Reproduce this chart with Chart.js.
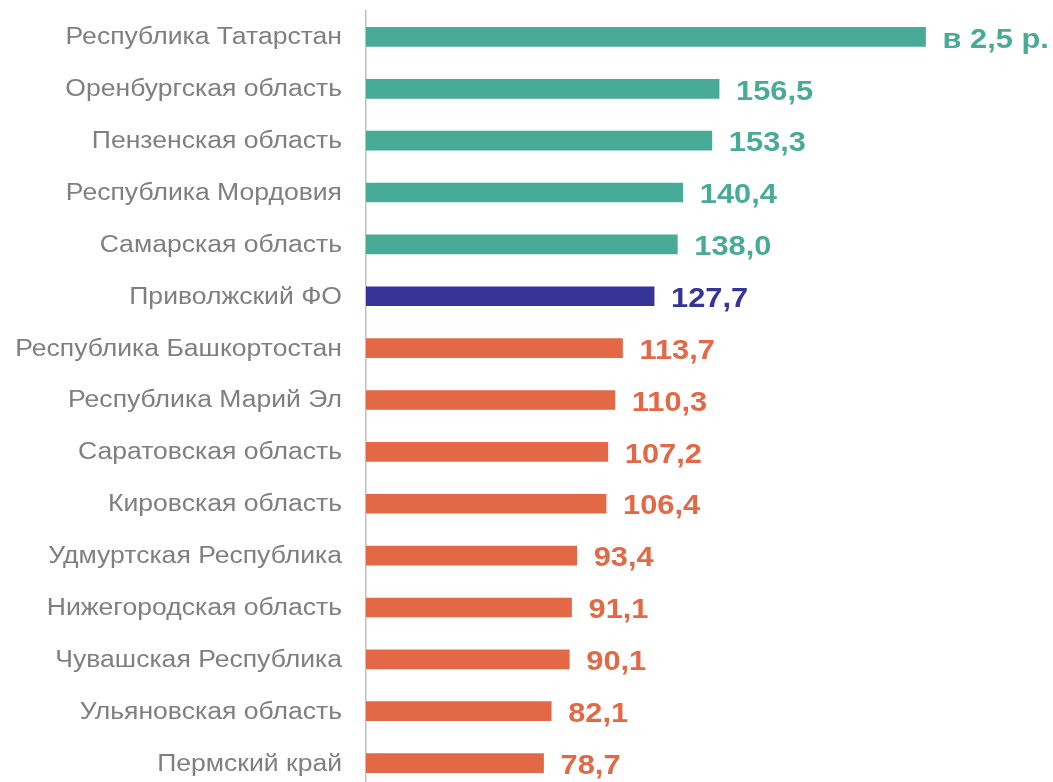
<!DOCTYPE html>
<html>
<head>
<meta charset="utf-8">
<script src="https://cdn.jsdelivr.net/npm/chart.js@4/dist/chart.umd.min.js"></script>
<style>
  html, body { margin: 0; padding: 0; background: #fff; overflow: hidden; }
  #wrap { width: 1053px; height: 790px; }
</style>
</head>
<body>
<div id="wrap"><canvas id="myChart"></canvas></div>
<script>
// regions, top to bottom
const regions = [
  "Республика Татарстан", "Оренбургская область", "Пензенская область",
  "Республика Мордовия", "Самарская область", "Приволжский ФО",
  "Республика Башкортостан", "Республика Марий Эл", "Саратовская область",
  "Кировская область", "Удмуртская Республика", "Нижегородская область",
  "Чувашская Республика", "Ульяновская область", "Пермский край"
];
// values (Tatarstan is shown as "в 2,5 р.", bar)
const values = [248, 156.5, 153.3, 140.4, 138.0, 127.7, 113.7, 110.3, 107.2, 106.4, 93.4, 91.1, 90.1, 82.1, 78.7];
const valueLabels = ["в 2,5 р.", "156,5", "153,3", "140,4", "138,0", "127,7", "113,7", "110,3", "107,2", "106,4", "93,4", "91,1", "90,1", "82,1", "78,7"];
// group: 0 = above district, 1 = district, 2 = below
const groups = [0, 0, 0, 0, 0, 1, 2, 2, 2, 2, 2, 2, 2, 2, 2];

const groupColors = ["#48ab97", "#363399", "#e36846"];
const barColors = groups.map(g => groupColors[g]);

// text is a bit wider than plain Arial in the original
function drawStretched(ctx, text, x, y, align, stretch) {
  ctx.save();
  ctx.translate(x, y);
  ctx.scale(stretch, 1);
  ctx.textAlign = align;
  ctx.fillText(text, 0, 0);
  ctx.restore();
}

// category names and value labels
const labelPlugin = {
  id: "labels",
  afterDatasetsDraw(chart) {
    const ctx = chart.ctx;
    const meta = chart.getDatasetMeta(0);
    const yScale = chart.scales.y;
    ctx.save();
    ctx.textBaseline = "middle";

    ctx.font = "23.5px Arial, 'Liberation Sans', sans-serif";
    ctx.fillStyle = "#7f7f7f";
    regions.forEach((name, i) => {
      drawStretched(ctx, name, yScale.right - 24, yScale.getPixelForTick(i) + 1, "right", 1.13);
    });

    ctx.font = "bold 28px Arial, 'Liberation Sans', sans-serif";
    meta.data.forEach((bar, i) => {
      ctx.fillStyle = barColors[i];
      drawStretched(ctx, valueLabels[i], bar.x + 17, bar.y + 3, "left", 1.1);
    });
    ctx.restore();
  }
};

const data = {
  labels: regions,
  datasets: [{
    data: values,
    backgroundColor: barColors,
    borderWidth: 0,
    barThickness: 19
  }]
};

const config = {
  type: "bar",
  data,
  options: {
    indexAxis: "y",
    responsive: true,
    maintainAspectRatio: false,
    animation: false,
    layout: { padding: { top: 11, bottom: 1, right: 0, left: 0 } },
    plugins: {
      legend: { display: false },
      tooltip: { enabled: false }
    },
    scales: {
      x: {
        min: 0,
        max: 304.5,
        display: false
      },
      y: {
        grid: { display: false, drawTicks: false },
        border: { display: true, color: "#bfbfbf", width: 1.5 },
        ticks: { display: false },
        afterFit(scale) {
          scale.width = 366;
          scale.paddingTop = 0;
          scale.paddingBottom = 0;
        }
      }
    }
  },
  plugins: [labelPlugin]
};

const myChart = new Chart(document.getElementById("myChart"), config);
</script>
</body>
</html>
